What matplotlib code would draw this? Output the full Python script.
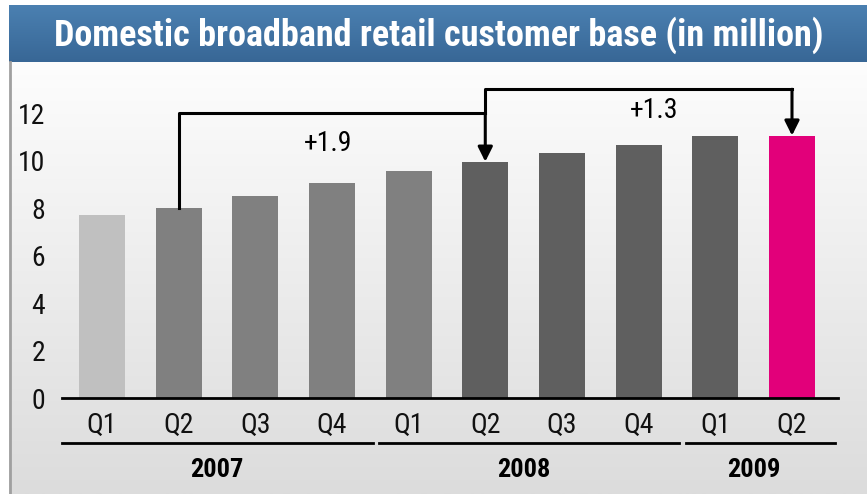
import numpy as np
import matplotlib
matplotlib.use("Agg")
import matplotlib.pyplot as plt
from matplotlib.colors import LinearSegmentedColormap
from matplotlib.transforms import blended_transform_factory

plt.rcParams['font.family'] = ['Liberation Sans Narrow', 'Roboto Condensed',
                               'Roboto', 'DejaVu Sans']

# data
quarters = ["Q1", "Q2", "Q3", "Q4", "Q1", "Q2", "Q3", "Q4", "Q1", "Q2"]
customers = [7.7, 8.0, 8.5, 9.05, 9.55, 9.95, 10.3, 10.65, 11.05, 11.05]
bar_colors = ["#c0c0c0", "#808080", "#808080", "#808080", "#808080",
              "#5f5f5f", "#5f5f5f", "#5f5f5f", "#5f5f5f", "#e2007a"]
years = ["2007", "2008", "2009"]
year_groups = [(0, 3), (4, 7), (8, 9)]
deltas = ["+1.9", "+1.3"]

W, H = 867, 494
fig = plt.figure(figsize=(W / 100, H / 100), dpi=100)

# background: white margin, grey gradient panel, blue title band
bg = fig.add_axes([0, 0, 1, 1])
bg.set_xlim(0, W)
bg.set_ylim(H, 0)
bg.axis("off")
grey = LinearSegmentedColormap.from_list("g", ["#fdfdfd", "#dcdcdc"])
bg.imshow(np.linspace(0, 1, 256).reshape(-1, 1), cmap=grey, aspect="auto",
          extent=[9, W, H, 62], zorder=0)
blue = LinearSegmentedColormap.from_list("b", ["#4b80b1", "#386796"])
bg.imshow(np.linspace(0, 1, 64).reshape(-1, 1), cmap=blue, aspect="auto",
          extent=[9, W, 62, 5], zorder=1)
bg.plot([9.5, 9.5], [62, H], color="#a0a0a0", lw=2, zorder=2)
bg.text(439, 35, "Domestic broadband retail customer base (in million)",
        color="white", fontsize=26, fontweight="bold", ha="center",
        va="center", zorder=3)

ax = fig.add_axes([62 / W, 1 - 398 / H, 776 / W, 323 / H])
ax.patch.set_alpha(0)
x = np.arange(len(customers))
ax.bar(x, customers, width=0.6, color=bar_colors, zorder=2)
ax.set_xlim(-0.52, 9.6)
ax.set_ylim(0, 13.6)
ax.set_yticks(range(0, 13, 2))
ax.set_xticks(x)
ax.set_xticklabels(quarters)
ax.tick_params(axis="both", length=0, labelsize=20, colors="#111111")
ax.tick_params(axis="y", pad=12)
ax.tick_params(axis="x", pad=10)
for s in ["top", "right", "left"]:
    ax.spines[s].set_visible(False)
ax.spines["bottom"].set_linewidth(2)

# year groups below quarter labels
tr = blended_transform_factory(ax.transData, ax.transAxes)
for yr, (a, b) in zip(years, year_groups):
    x0 = a - 0.52 if a == 0 else a - 0.38
    x1 = b + 0.53 if b < 9 else b + 0.56
    ax.plot([x0, x1], [-0.139, -0.139], color="black", lw=2,
            transform=tr, clip_on=False)
    ax.text((a + b) / 2, -0.222, yr, transform=tr, ha="center", va="center",
            fontsize=19, fontweight="bold")

# bracket arrows
lw = 2.2
ax.plot([1, 1, 5], [customers[1], 12.0, 12.0], color="black", lw=lw, zorder=3)
ax.annotate("", xy=(5, customers[5]), xytext=(5, 12.0),
            arrowprops=dict(arrowstyle="-|>", color="black", lw=lw,
                            mutation_scale=22, shrinkA=0, shrinkB=0), zorder=3)
ax.plot([5, 5, 9], [12.0, 13.0, 13.0], color="black", lw=lw, zorder=3)
ax.annotate("", xy=(9, customers[9]), xytext=(9, 13.0),
            arrowprops=dict(arrowstyle="-|>", color="black", lw=lw,
                            mutation_scale=22, shrinkA=0, shrinkB=0), zorder=3)
ax.text(2.95, 10.7, deltas[0], ha="center", va="center", fontsize=20)
ax.text(7.2, 12.1, deltas[1], ha="center", va="center", fontsize=20)

fig.savefig("out.png", dpi=100)
